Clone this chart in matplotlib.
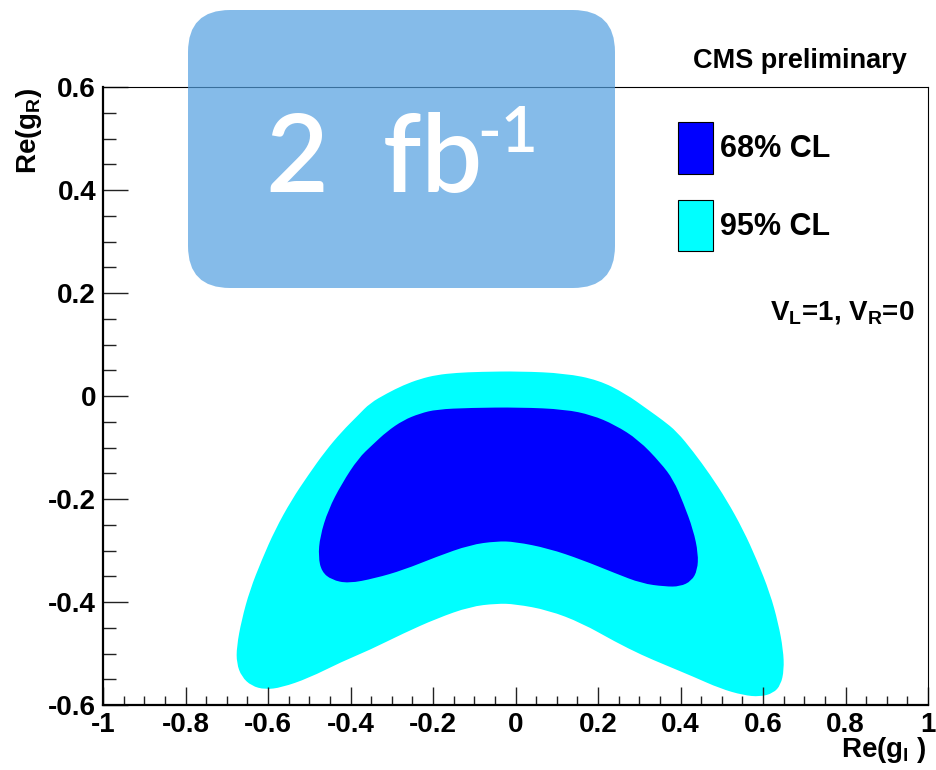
import matplotlib
matplotlib.use('Agg')
import numpy as np
import matplotlib.pyplot as plt
from matplotlib.patches import FancyBboxPatch, Patch, PathPatch
from matplotlib.path import Path
from matplotlib.transforms import IdentityTransform
from matplotlib.ticker import MultipleLocator

plt.rcParams['font.family'] = ['Liberation Sans', 'DejaVu Sans']
plt.rcParams['font.weight'] = 'bold'
plt.rcParams['mathtext.fontset'] = 'custom'
plt.rcParams['mathtext.rm'] = 'Liberation Sans:bold'
plt.rcParams['mathtext.it'] = 'Liberation Sans:bold'
plt.rcParams['mathtext.bf'] = 'Liberation Sans:bold'

# ---------------- data ----------------
# 95% CL contour (outer)
outer_x = [-0.676, -0.664, -0.644, -0.615, -0.583, -0.543, -0.502, -0.462, -0.421, -0.381, -0.353,
           -0.312, -0.272, -0.232, -0.191, -0.143, -0.086, 0.011, 0.120, 0.201, 0.266, 0.322, 0.357,
           0.391, 0.431, 0.472, 0.512, 0.552, 0.585, 0.617, 0.637, 0.649, 0.651, 0.643, 0.625, 0.593,
           0.552, 0.496, 0.431, 0.362, 0.306, 0.241, 0.161, 0.080, -0.001, -0.046, -0.110, -0.191,
           -0.272, -0.353, -0.421, -0.502, -0.567, -0.607, -0.640, -0.664, -0.676]
outer_y = [-0.487, -0.435, -0.377, -0.318, -0.260, -0.202, -0.153, -0.108, -0.069, -0.037, -0.014,
           0.005, 0.021, 0.033, 0.041, 0.045, 0.047, 0.048, 0.044, 0.031, 0.005, -0.027, -0.047,
           -0.069, -0.108, -0.153, -0.202, -0.260, -0.318, -0.383, -0.441, -0.493, -0.532, -0.561,
           -0.577, -0.584, -0.581, -0.568, -0.545, -0.522, -0.503, -0.477, -0.441, -0.416, -0.404,
           -0.403, -0.409, -0.432, -0.461, -0.493, -0.516, -0.548, -0.566, -0.570, -0.563, -0.545,
           -0.519]
# 68% CL contour (inner)
inner_x = [-0.478, -0.474, -0.454, -0.421, -0.381, -0.347, -0.312, -0.272, -0.232, -0.191, -0.110,
           0.011, 0.120, 0.185, 0.241, 0.298, 0.352, 0.383, 0.407, 0.431, 0.443, 0.441, 0.427, 0.399,
           0.362, 0.306, 0.241, 0.161, 0.080, -0.001, -0.046, -0.110, -0.191, -0.272, -0.341, -0.405,
           -0.446, -0.470]
inner_y = [-0.312, -0.273, -0.221, -0.170, -0.121, -0.095, -0.069, -0.047, -0.034, -0.026, -0.023,
           -0.022, -0.026, -0.037, -0.056, -0.085, -0.130, -0.163, -0.208, -0.260, -0.306, -0.338,
           -0.359, -0.370, -0.370, -0.364, -0.344, -0.318, -0.296, -0.283, -0.282, -0.289, -0.312,
           -0.338, -0.354, -0.364, -0.357, -0.341]

xticks = [-1.0, -0.8, -0.6, -0.4, -0.2, 0.0, 0.2, 0.4, 0.6, 0.8, 1.0]
xtick_labels = ['-1', '-0.8', '-0.6', '-0.4', '-0.2', '0', '0.2', '0.4', '0.6', '0.8', '1']
yticks = [-0.6, -0.4, -0.2, 0.0, 0.2, 0.4, 0.6]
ytick_labels = ['-0.6', '-0.4', '-0.2', '0', '0.2', '0.4', '0.6']
legend_labels = ['68% CL', '95% CL']
cl_colors = ['#0000FF', '#00FFFF']


def smooth_closed_path(xs, ys):
    """Closed quadratic-Bezier path using the read points as control points."""
    pts = np.column_stack([xs, ys])
    n = len(pts)
    mids = (pts + np.roll(pts, -1, axis=0)) / 2.0
    verts = [mids[-1]]
    codes = [Path.MOVETO]
    for i in range(n):
        verts += [pts[i], mids[i]]
        codes += [Path.CURVE3, Path.CURVE3]
    verts.append(mids[-1])
    codes.append(Path.CLOSEPOLY)
    return Path(np.array(verts), codes)


# ---------------- figure ----------------
W, H = 936, 770
fig = plt.figure(figsize=(W / 100, H / 100), dpi=100)
ax = fig.add_axes([103 / W, 1 - 705 / H, 825 / W, 618 / H])

ax.add_patch(PathPatch(smooth_closed_path(outer_x, outer_y), facecolor=cl_colors[1],
                       edgecolor='none', lw=0))
ax.add_patch(PathPatch(smooth_closed_path(inner_x, inner_y), facecolor=cl_colors[0],
                       edgecolor='none', lw=0))

ax.set_xlim(-1, 1)
ax.set_ylim(-0.6, 0.6)
ax.set_xticks(xticks)
ax.set_xticklabels(xtick_labels)
ax.set_yticks(yticks)
ax.set_yticklabels(ytick_labels)
ax.xaxis.set_minor_locator(MultipleLocator(0.05))
ax.yaxis.set_minor_locator(MultipleLocator(0.05))
ax.tick_params(which='both', direction='in', top=False, right=False, width=1,
               labelsize=20, pad=5, color='#222222')
ax.tick_params(axis='x', which='major', length=13)
ax.tick_params(axis='x', which='minor', length=6.5)
ax.tick_params(axis='y', which='major', length=18)
ax.tick_params(axis='y', which='minor', length=9)
for lab in ax.get_xticklabels() + ax.get_yticklabels():
    lab.set_fontweight('bold')

ax.spines['left'].set_linewidth(1.6)
ax.spines['bottom'].set_linewidth(1.6)
ax.spines['top'].set_linewidth(0.8)
ax.spines['right'].set_linewidth(0.8)

fs_leg = 22
px = fs_leg * 100 / 72
handles = [Patch(facecolor=c, edgecolor='black', linewidth=0.8, label=l)
           for c, l in zip(cl_colors, legend_labels)]
ax.legend(handles=handles, loc='upper left', bbox_to_anchor=(678 / W, 1 - 122 / H),
          bbox_transform=fig.transFigure, frameon=False,
          prop={'weight': 'bold', 'size': fs_leg},
          handlelength=35 / px, handleheight=54 / px * 54 / 43, handletextpad=7 / px,
          labelspacing=26 / px, borderpad=0, borderaxespad=0)

# axis titles
fig.text(927 / W, 1 - 757 / H, r'Re(g$_{\rm l}$ )', ha='right', va='baseline',
         fontsize=20, fontweight='bold')
fig.text(29 / W, 1 - 87 / H, r'Re(g$_{\rm R}$)', rotation=90, ha='center', va='top',
         fontsize=20, fontweight='bold')

fig.text(907 / W, 1 - 68 / H, 'CMS preliminary', ha='right', va='baseline',
         fontsize=19.5, fontweight='bold')
fig.text(915 / W, 1 - 319 / H, r'V$_{\rm L}$=1, V$_{\rm R}$=0', ha='right', va='baseline',
         fontsize=20, fontweight='bold')

# luminosity badge
badge = FancyBboxPatch((188, H - 288), 427, 278, boxstyle='round,pad=0,rounding_size=42',
                       transform=IdentityTransform(), facecolor='#529FE0', alpha=0.7,
                       edgecolor='none', zorder=5)
fig.add_artist(badge)
fig.text(266 / W, 1 - 192 / H, '2  fb', fontsize=78, family='Lato', fontweight=600,
         color='white', ha='left', va='baseline', zorder=6)
fig.text(477 / W, 1 - 152 / H, '-1', fontsize=46, family='Lato', fontweight=600,
         color='white', ha='left', va='baseline', zorder=6)

fig.savefig('out.png', dpi=100)
